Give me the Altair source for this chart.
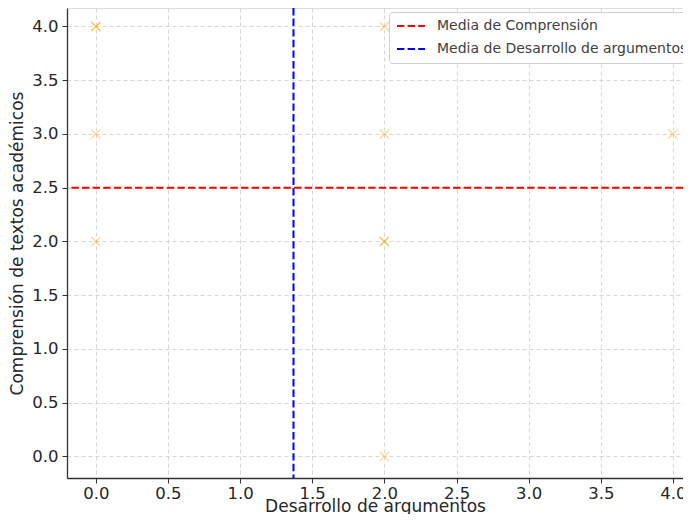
import altair as alt
import pandas as pd

# Data
desarrollo = [0, 0, 0, 0, 2, 2, 2, 2, 2, 4]
comprension = [4, 4, 3, 2, 4, 3, 2, 2, 0, 3]
mean_labels = ["Media de Comprensión", "Media de Desarrollo de argumentos"]
mean_comprension = [2.5]
mean_desarrollo = [1.37]
tick_vals = [0.0, 0.5, 1.0, 1.5, 2.0, 2.5, 3.0, 3.5, 4.0]

pts = pd.DataFrame({"x": desarrollo, "y": comprension})
hdf = pd.DataFrame({"y": mean_comprension, "serie": [mean_labels[0]]})
vdf = pd.DataFrame({"x": mean_desarrollo, "serie": [mean_labels[1]]})

FONT = "DejaVu Sans"
TXT = "#262626"

xscale = alt.Scale(domain=[-0.2, 4.07], nice=False, zero=False)
yscale = alt.Scale(domain=[-0.2, 4.172], nice=False, zero=False)
cscale = alt.Scale(domain=mean_labels, range=["#ff0000", "#0000ff"])

common = dict(grid=True, gridDash=[4, 3], gridColor="#cccccc", gridWidth=0.8,
              domainColor="#333333", domainWidth=1.3, tickColor="#333333",
              tickSize=5, labelFontSize=16.5, titleFontSize=17,
              labelColor=TXT, titleColor=TXT, labelFont=FONT, titleFont=FONT,
              titleFontWeight="normal", labelFlush=False, format=".1f",
              values=tick_vals)
xaxis = alt.Axis(title="Desarrollo de argumentos", labelPadding=2,
                 titlePadding=-3, **common)
yaxis = alt.Axis(title="Comprensión de textos académicos", labelPadding=4,
                 titlePadding=5, **common)

points = alt.Chart(pts).mark_point(
    shape="M-1,-1L1,1M-1,1L1,-1", filled=False, size=85, strokeWidth=1.2,
    color="#FFA500", opacity=0.5, clip=True
).encode(
    x=alt.X("x:Q", scale=xscale, axis=xaxis),
    y=alt.Y("y:Q", scale=yscale, axis=yaxis),
)

legend = alt.Legend(title=None, orient="none", legendX=322, legendY=4,
                    symbolType="stroke", symbolSize=784, symbolStrokeWidth=2,
                    symbolDash=[7.4, 3.2], clipHeight=14, labelFontSize=14,
                    labelFont=FONT, labelColor="#404040", labelLimit=400,
                    labelOffset=11, rowPadding=9, padding=7, fillColor="white",
                    strokeColor="#d0d0d0", cornerRadius=3)

hline = alt.Chart(hdf).mark_rule(strokeDash=[7.4, 3.2], strokeWidth=2).encode(
    y=alt.Y("y:Q", scale=yscale),
    color=alt.Color("serie:N", scale=cscale, legend=legend),
)
vline = alt.Chart(vdf).mark_rule(strokeDash=[7.4, 3.2], strokeWidth=2).encode(
    x=alt.X("x:Q", scale=xscale),
    color=alt.Color("serie:N", scale=cscale, legend=legend),
)

chart = alt.layer(points, hline, vline).properties(
    width=616, height=470,
    autosize=alt.AutoSizeParams(type="none"),
    padding={"left": 59, "top": 0, "right": 0, "bottom": 36},
).configure_view(stroke=None).configure(background="white")

chart.save("out.html", embed_options={"renderer": "svg", "actions": False})
